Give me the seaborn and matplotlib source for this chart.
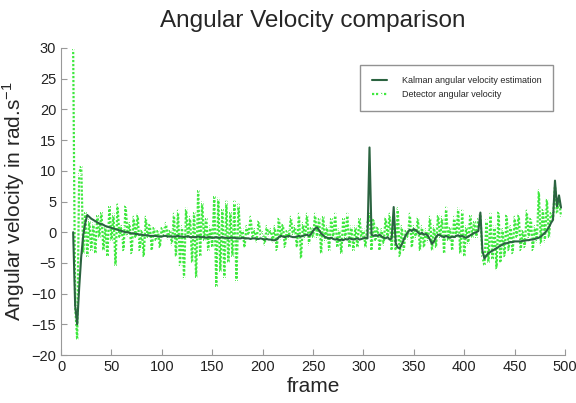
import numpy as np
import pandas as pd
import seaborn as sns
import matplotlib.pyplot as plt

# frame numbers (every 2nd frame)
frames = list(range(12, 497, 2))

# Kalman angular velocity estimation
kalman = [
    0, -12, -15, -9, -4, -0.5, 1.5, 2.8, 2.5, 2.2,
    2.0, 1.8, 1.6, 1.4, 1.3, 1.2, 1.0, 0.9, 0.8, 0.7,
    0.6, 0.5, 0.4, 0.3, 0.2, 0.1, 0.0, 0.0, -0.1, -0.2,
    -0.2, -0.3, -0.3, -0.4, -0.4, -0.5, -0.5, -0.5, -0.6, -0.6,
    -0.6, -0.6, -0.7, -0.7, -0.7, -0.6, -0.6, -0.7, -0.7, -0.7,
    -0.7, -0.7, -0.6, -0.7, -0.7, -0.8, -0.7, -0.7, -0.8, -0.8,
    -0.8, -0.8, -0.7, -0.8, -0.8, -0.8, -0.9, -0.8, -0.8, -0.9,
    -0.9, -0.8, -0.9, -0.9, -0.8, -0.9, -0.9, -1.0, -0.9, -0.9,
    -0.9, -1.0, -1.0, -1.0, -0.9, -1.0, -1.0, -1.0, -1.1, -1.0,
    -1.0, -1.1, -1.1, -1.0, -1.1, -1.2, -1.1, -1.2, -1.2, -1.3,
    -1.3, -1.2, -0.8, -0.6, -0.7, -0.8, -0.7, -0.6, -0.7, -0.8,
    -0.8, -0.7, -0.6, -0.7, -0.6, -0.5, -0.4, -0.6, -0.3, 0.2,
    0.6, 0.8, 0.3, -0.2, -0.5, -0.8, -0.9, -1.0, -0.9, -1.1,
    -1.2, -1.1, -1.3, -1.2, -1.3, -1.1, -1.2, -1.0, -1.1, -1.2,
    -1.1, -1.0, -1.2, -1.1, -1.0, -0.9, -1.0, 13.8, -0.4, -0.6,
    -0.5, -0.6, -0.4, -0.7, -0.9, -1.0, -0.8, -1.2, -1.0, 4.1,
    -1.8, -2.5, -2.6, -2.0, -1.2, -0.5, 0.0, 0.4, 0.2, 0.5,
    0.3, 0.0, -0.3, -0.1, -0.4, -0.3, -0.6, -1.2, -1.9, -1.5,
    -0.8, -0.4, -0.5, -0.7, -0.8, -0.6, -0.8, -0.9, -0.7, -0.8,
    -0.6, -0.5, -0.7, -0.6, -0.8, -0.9, -0.7, -0.5, -0.3, -0.1,
    0.0, 0.2, 3.2, -3.0, -4.3, -3.8, -3.4, -3.2, -3.0, -2.8,
    -2.6, -2.4, -2.2, -2.0, -1.8, -1.8, -1.7, -1.6, -1.6, -1.5,
    -1.5, -1.5, -1.5, -1.4, -1.4, -1.3, -1.3, -1.2, -1.2, -1.1,
    -1.0, -0.9, -0.7, -0.4, -0.1, 0.3, 0.8, 1.5, 2.0, 8.4,
    4.2, 6.0, 4.0,
]

# raw detector angular velocity
detector = [
    30, -12, -17.5, 9.5, 11, -3.5, 3.5, -4, 2, -3,
    1.5, -3.5, 3, -1, 3.5, -3, 1, -4, 4.5, -1.5,
    3, -5.5, 4.5, -1, 1, -3, 4.5, -0.5, 1.5, -3.5,
    2.5, -1, 3, -3, 0.5, -4, 2.5, -1, 1.5, -3,
    1, -1.5, 0.5, -2.5, 1, -0.5, 1.5, -1, 0.5, -2,
    3, -4, 3.5, -5.5, 1, -7.5, 4, -1, 2.5, -5,
    3.5, -7.5, 7, -4, 5, -1.5, 2.5, -3, 1, -2.5,
    6, -9, 5.5, -6.5, 4, -7.5, 5, -5, 3.5, -4,
    5, -8, 4.5, -1, 0.5, -2.5, 1, -0.5, 2.5, -1,
    0.5, -1.5, 2, -0.5, 0, -2, 1, -0.5, 0.5, -1.5,
    1, -3, 2.5, -1, 1.5, -2.5, 0.5, -1, 2.5, -0.5,
    1, -2.5, 3, -4.3, 1.5, -1, 3, -2, 1, -1,
    3, -1, 2.5, -3.5, 2.8, -1.5, 1, -3, 2.5, -1,
    3, -2.5, 0.5, -3.5, 2.5, -1, 3, -2.5, 1, -3,
    1, -2.5, 2.5, -1, 0.5, -2.5, 1.5, 3, -3, 2.3,
    -1.5, 1, -3, 0.5, -2, 2.5, -1, 3, -3, 2.5,
    -3, 3.9, -4, 1, -3, 0.5, -1, 3, -2.5, 1,
    -1, 2.5, -3, 1, -2.5, 0.5, -1.5, 2.5, -3, 1,
    -2.5, 3, -1, 2.5, -3.5, 4, -1.5, 1, -3, 2.5,
    -1, 3.9, -3.5, 3.5, -4, 1, -2, 3, -1, 2,
    -1, 2.5, 3, -4, -5.5, 2, -5, 3, -4.5, 1,
    -6, 3.5, -5, 0.5, -4, 3, -3, 1, -3.5, 2.5,
    -1, 3, -3, 0.5, -2.5, 3.5, -1, 2.5, -3, 1,
    -1.5, 6.8, -2, 4, -1.5, 5.5, -1, 3.5, 2, 7.5,
    3, 5.5, 2.5,
]

xticks = list(range(0, 501, 50))
yticks = list(range(-20, 31, 5))

sns.set_style("ticks")
plt.rcParams['font.family'] = ['Liberation Sans', 'DejaVu Sans']
plt.rcParams['mathtext.fontset'] = 'custom'
plt.rcParams['mathtext.rm'] = 'Liberation Sans'

fig, ax = plt.subplots(figsize=(5.76, 4.03), dpi=100)
fig.subplots_adjust(left=0.106, right=0.981, bottom=0.119, top=0.881)

sns.lineplot(x=frames, y=detector, ax=ax, color="#3fe83f", linestyle=(0, (1, 0.8)),
             marker="+", markersize=2.5, markeredgewidth=0.8, linewidth=1.6,
             label="Detector angular velocity")
sns.lineplot(x=frames, y=kalman, ax=ax, color="#2b6340", linewidth=1.5,
             label="Kalman angular velocity estimation")

ax.set_xlim(0, 500)
ax.set_ylim(-20, 30)
ax.set_xticks(xticks)
ax.set_yticks(yticks)
ax.tick_params(direction="in", length=4, color="#999999", labelsize=10.5, labelcolor="#222222")
for side in ["top", "right"]:
    ax.spines[side].set_visible(False)
for side in ["left", "bottom"]:
    ax.spines[side].set_color("#999999")

ax.set_title("Angular Velocity comparison", fontsize=17.5, pad=15)
ax.set_xlabel("frame", fontsize=15, labelpad=2)
ax.set_ylabel("Angular velocity in rad.s$^{\\mathrm{-1}}$", fontsize=15)
ax.yaxis.set_label_coords(-0.068, 0.5)

handles, labels = ax.get_legend_handles_labels()
leg = ax.legend(handles[::-1], labels[::-1], loc="upper right", fontsize=6.5,
                frameon=True, fancybox=False, edgecolor="#777777",
                borderpad=1.3, handlelength=1.7, handletextpad=1.6,
                bbox_to_anchor=(0.985, 0.96))

plt.savefig("out.png", dpi=100)
